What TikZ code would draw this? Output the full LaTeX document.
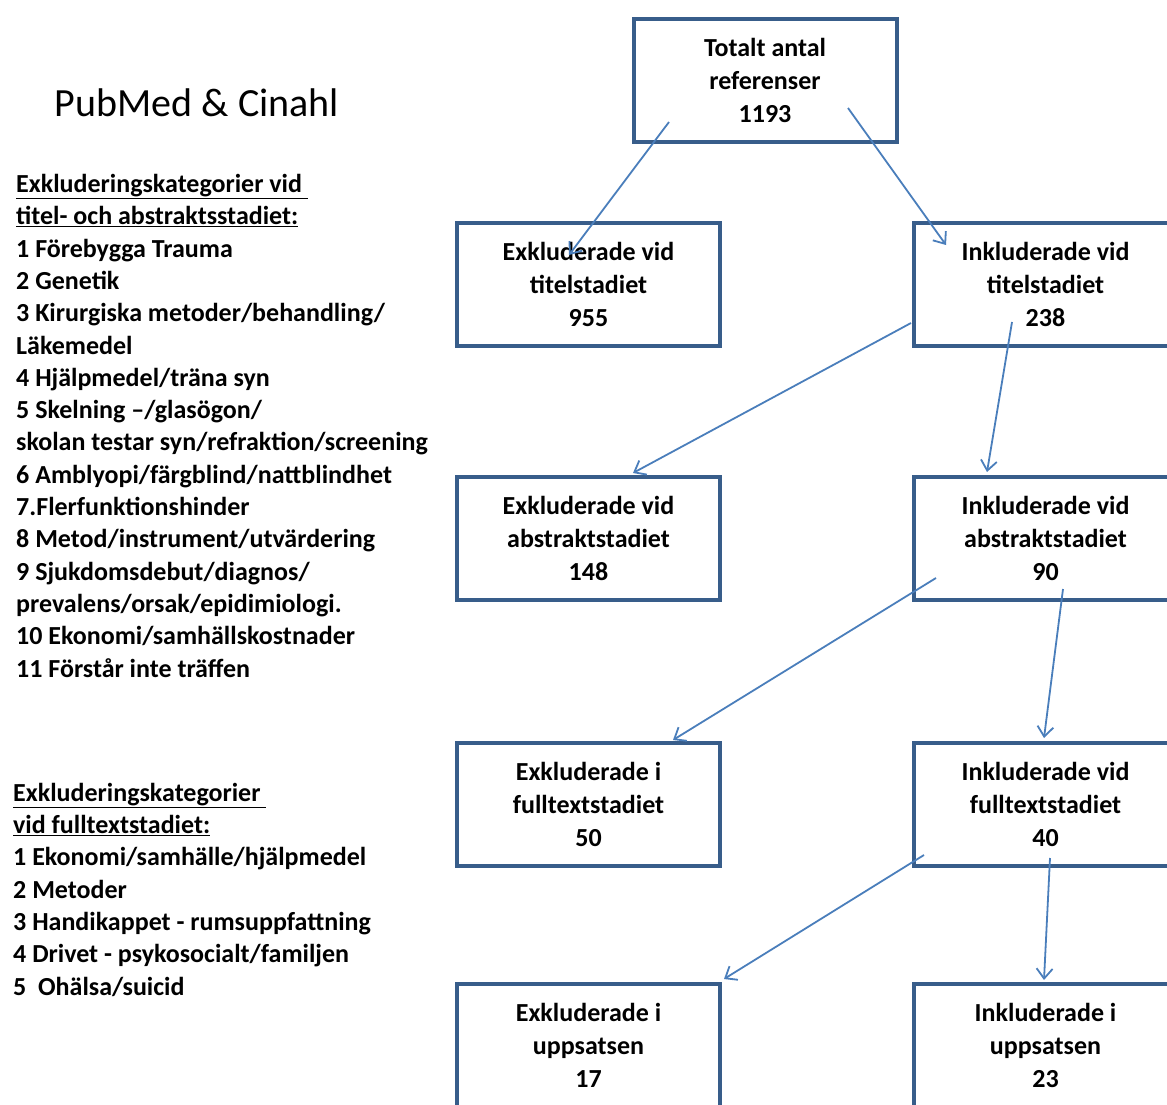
\documentclass[tikz,border=0pt]{standalone}
\usepackage{fontspec}
\setmainfont{Carlito}
\usetikzlibrary{arrows.meta}
\definecolor{ramblaa}{HTML}{385D8A}
\definecolor{pilblaa}{HTML}{4A7EBB}
\tikzset{
  boks/.style={rectangle, draw=ramblaa, line width=4pt, fill=white, align=center,
               minimum width=263pt, minimum height=123pt, inner sep=0pt,
               font=\bfseries\fontsize{26}{33}\selectfont},
  lista/.style={anchor=base west, align=left, inner sep=0pt,
                font=\bfseries\fontsize{26}{32.3}\selectfont},
  pil/.style={-{Straight Barb[length=10pt,width=16pt]}, line width=1.8pt, draw=pilblaa},
}

\begin{document}
\begin{tikzpicture}[x=1pt, y=-1pt]
    \useasboundingbox (0,0) rectangle (1167,1105);
    % Rubrik
    \node[font=\fontsize{40}{48}\selectfont, inner sep=0pt] (rubrik) at (197,103) {PubMed \& Cinahl};
    % Kategorier (base = sista raden)
    \node[lista] (kat1) at (16,677)
      {\underline{Exkluderingskategorier vid\ }\\
       \underline{titel- och abstraktsstadiet:}\\
       1 Förebygga Trauma\\
       2 Genetik\\
       3 Kirurgiska metoder/behandling/\\
       Läkemedel\\
       4 Hjälpmedel/träna syn\\
       5 Skelning –/glasögon/\\
       skolan testar syn/refraktion/screening\\
       6 Amblyopi/färgblind/nattblindhet\\
       7.Flerfunktionshinder\\
       8 Metod/instrument/utvärdering\\
       9 Sjukdomsdebut/diagnos/\\
       prevalens/orsak/epidimiologi.\\
       10 Ekonomi/samhällskostnader\\
       11 Förstår inte träffen};
    \node[lista] (kat2) at (13,995)
      {\underline{Exkluderingskategorier\ }\\
       \underline{vid fulltextstadiet:}\\
       1 Ekonomi/samhälle/hjälpmedel\\
       2 Metoder\\
       3 Handikappet - rumsuppfattning\\
       4 Drivet - psykosocialt/familjen\\
       5\ \ Ohälsa/suicid};
    % Flödet
    \node[boks] (top) at (765,80.5) {Totalt antal\\referenser\\1193};
    \node[boks] (exT) at (588.5,284.5) {Exkluderade vid\\titelstadiet\\955};
    \node[boks] (inT) at (1045.5,284.5) {Inkluderade vid\\titelstadiet\\238};
    \node[boks] (exA) at (588.5,538.5) {Exkluderade vid\\abstraktstadiet\\148};
    \node[boks] (inA) at (1045.5,538.5) {Inkluderade vid\\abstraktstadiet\\90};
    \node[boks] (exF) at (588.5,804.5) {Exkluderade i\\fulltextstadiet\\50};
    \node[boks] (inF) at (1045.5,804.5) {Inkluderade vid\\fulltextstadiet\\40};
    \node[boks] (exU) at (588.5,1045.5) {Exkluderade i\\uppsatsen\\17};
    \node[boks] (inU) at (1045.5,1045.5) {Inkluderade i\\uppsatsen\\23};
    % Pilar
    \draw[pil] ([shift={(-96,41.5)}]top.center) -- ([shift={(-19.5,-29.5)}]exT.center);
    \draw[pil] ([shift={(83,27.5)}]top.center) -- ([shift={(-99.5,-39.5)}]inT.center);
    \draw[pil] ([shift={(-134.5,38.5)}]inT.center) -- ([shift={(44.5,-65.5)}]exA.center);
    \draw[pil] ([shift={(-33.5,37.5)}]inT.center) -- ([shift={(-58.5,-66.5)}]inA.center);
    \draw[pil] ([shift={(-109.5,39.5)}]inA.center) -- ([shift={(84.5,-64.5)}]exF.center);
    \draw[pil] ([shift={(17.5,50.5)}]inA.center) -- ([shift={(-1.5,-66.5)}]inF.center);
    \draw[pil] ([shift={(-121.5,50.5)}]inF.center) -- ([shift={(135.5,-66.5)}]exU.center);
    \draw[pil] ([shift={(4.5,53.5)}]inF.center) -- ([shift={(-1.5,-65.5)}]inU.center);
\end{tikzpicture}
\end{document}
